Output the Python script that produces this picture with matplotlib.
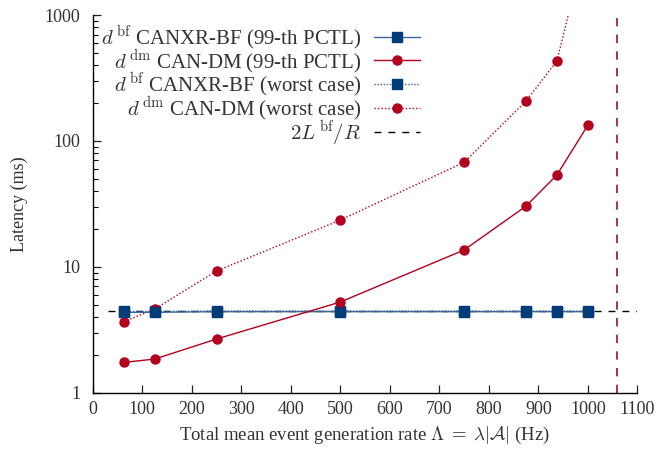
import matplotlib
matplotlib.use("Agg")
import matplotlib.pyplot as plt
from matplotlib.ticker import LogLocator, FixedLocator, NullFormatter

plt.rcParams['font.family'] = ['Liberation Serif', 'DejaVu Serif']
plt.rcParams['mathtext.fontset'] = 'cm'

# Data
x = [62.5, 125, 250, 500, 750, 875, 937.5, 1000]
bf_99 = [4.35, 4.35, 4.4, 4.4, 4.4, 4.4, 4.4, 4.4]
dm_99 = [1.74, 1.85, 2.67, 5.25, 13.6, 30.3, 53.6, 133]
bf_wc = [4.42, 4.42, 4.45, 4.45, 4.45, 4.45, 4.45, 4.45]
dm_wc = [3.66, 4.62, 9.26, 23.5, 67.6, 207, 431, 4200]
bound_2L_R = 4.46
asymptote_x = 1059

xticks = [0, 100, 200, 300, 400, 500, 600, 700, 800, 900, 1000, 1100]
yticks = [1, 10, 100, 1000]
ytick_labels = ['1', '10', '100', '1000']

navy = '#003C78'
navy_line = '#3d6699'
red = '#B2001E'

fig = plt.figure(figsize=(6.57, 4.51), dpi=100)
ax = fig.add_axes([0.1413, 0.1293, 0.8287, 0.8374])

ax.plot(x, bf_99, color=navy_line, lw=1.0, marker='s', ms=7, mfc=navy, mec=navy,
        label=r'$d^{\,\mathrm{bf}}$ CANXR-BF (99-th PCTL)', zorder=5)
ax.plot(x, dm_99, color=red, lw=1.0, marker='o', ms=6.5, mfc=red, mec=red,
        label=r'$d^{\,\mathrm{dm}}$ CAN-DM (99-th PCTL)', zorder=5)
ax.plot(x, bf_wc, color=navy_line, lw=1.0, ls=(0, (1, 1.2)), marker='s', ms=7, mfc=navy, mec=navy,
        label=r'$d^{\,\mathrm{bf}}$ CANXR-BF (worst case)', zorder=4)
ax.plot(x, dm_wc, color=red, lw=1.0, ls=(0, (1, 1.5)), marker='o', ms=6.5, mfc=red, mec=red,
        label=r'$d^{\,\mathrm{dm}}$ CAN-DM (worst case)', zorder=4)
ax.plot([30, 1100], [bound_2L_R, bound_2L_R], color='black', lw=1.0, ls=(0, (5, 5)),
        label=r'$2L^{\,\mathrm{bf}}/R$', zorder=3)
ax.axvline(asymptote_x, color='#9b1030', lw=1.2, ls=(0, (5, 5)), zorder=2)

ax.set_yscale('log')
ax.set_xlim(0, 1100)
ax.set_ylim(1, 1000)
ax.xaxis.set_major_locator(FixedLocator(xticks))
ax.set_xticklabels([str(t) for t in xticks])
ax.yaxis.set_major_locator(FixedLocator(yticks))
ax.set_yticklabels(ytick_labels)
ax.yaxis.set_minor_locator(LogLocator(base=10, subs=range(2, 10)))
ax.yaxis.set_minor_formatter(NullFormatter())

for s in ['top', 'right']:
    ax.spines[s].set_visible(False)
for s in ['left', 'bottom']:
    ax.spines[s].set_linewidth(1.0)

ax.tick_params(axis='both', which='major', direction='in', length=6, width=0.9,
               labelsize=13, colors='#222222', labelcolor='#333333')
ax.tick_params(axis='y', which='minor', direction='in', length=3.5, width=0.8)
ax.tick_params(axis='x', which='major', pad=6)
ax.tick_params(axis='y', which='major', pad=9)

ax.set_ylabel('Latency (ms)', fontsize=13, color='#333333', labelpad=12)
ax.set_xlabel(r'Total mean event generation rate $\Lambda\;=\;\lambda|\mathcal{A}|$ (Hz)',
              fontsize=13.5, color='#333333', labelpad=5)

leg = ax.legend(loc='upper right', bbox_to_anchor=(0.616, 1.0), frameon=False,
                markerfirst=False, fontsize=15, handlelength=2.2, labelspacing=-0.24,
                borderaxespad=0.0, handletextpad=0.6)
for t in leg.get_texts():
    t.set_ha('right')
    t.set_color('#333333')
leg._legend_box.align = 'right'

fig.savefig('out.png', dpi=100)
